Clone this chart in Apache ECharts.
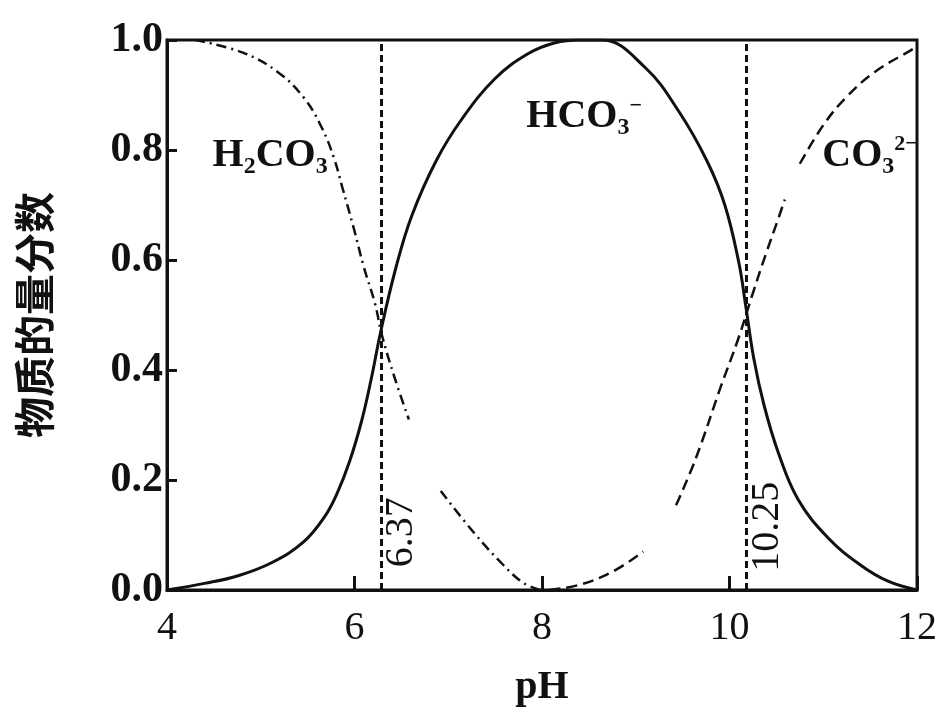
<!DOCTYPE html>
<html><head><meta charset="utf-8">
<script src="https://cdn.jsdelivr.net/npm/echarts@6/dist/echarts.min.js"></script>
<style>html,body{margin:0;padding:0;background:#fff}#c{width:944px;height:713px}</style>
</head><body><div id="c"></div>
<script>
// tick values
const xTicks = [4, 6, 8, 10, 12];
const yTicks = [0, 0.2, 0.4, 0.6, 0.8, 1.0];
// pKa reference lines (positions as drawn) and their labels
const pKaLines = [6.28, 10.18];
const pKaLabels = ['6.37', '10.25'];
// HCO3- fraction (solid)
const hco3 = [[4,0],[4.4,0.012],[4.76,0.026],[5.12,0.05],[5.46,0.088],[5.68,0.133],[5.81,0.174],[5.95,0.235],[6.08,0.31],[6.18,0.385],[6.28,0.47],[6.44,0.585],[6.61,0.68],[6.87,0.78],[7.14,0.855],[7.5,0.93],[7.85,0.975],[8.14,0.995],[8.4,1.0],[8.64,1.0],[9.1,0.95],[9.46,0.87],[9.76,0.78],[9.95,0.7],[10.1,0.595],[10.17,0.52],[10.26,0.42],[10.37,0.335],[10.52,0.25],[10.73,0.165],[11.05,0.095],[11.4,0.045],[11.69,0.016],[12,0]];
// H2CO3 fraction (dash-dot), drawn in two pieces
const h2co3Upper = [[4.3,1.0],[4.81,0.977],[5.18,0.942],[5.46,0.895],[5.65,0.841],[5.78,0.786],[5.87,0.732],[5.99,0.659],[6.1,0.587],[6.22,0.52],[6.29,0.465],[6.43,0.385],[6.58,0.31]];
const h2co3Lower = [[6.92,0.18],[7.27,0.105],[7.59,0.045],[7.8,0.013],[7.98,0]];
// CO3 2- fraction (dashed), drawn in three pieces
const co3Seg1 = [[8.08,0],[8.41,0.01],[8.76,0.034],[9.08,0.07]];
const co3Seg2 = [[9.43,0.154],[9.64,0.239],[9.91,0.371],[10.09,0.455],[10.25,0.54],[10.39,0.612],[10.52,0.675],[10.59,0.71]];
const co3Seg3 = [[10.75,0.775],[11.0,0.845],[11.24,0.895],[11.55,0.942],[11.97,0.985],[12,0.99]];

const SERIF = 'Liberation Serif';
const BLACK = '#111';
const chart = echarts.init(document.getElementById('c'));

const dashDot = [10, 5, 2, 5];
const dash = [11, 6];

function seg(data, type, width) {
  return {type: 'line', data: data, showSymbol: false, smooth: 0.4, silent: true,
    lineStyle: {color: BLACK, width: width, type: type}, z: 3};
}
const rich = {
  a: {fontFamily: SERIF, fontWeight: 'bold', fontSize: 40, color: BLACK},
  s: {fontFamily: SERIF, fontWeight: 'bold', fontSize: 24, color: BLACK, padding: [22, 0, 0, 0]},
  p: {fontFamily: SERIF, fontWeight: 'bold', fontSize: 22, color: BLACK, padding: [0, 0, 22, 0]}
};
function lbl(coord, formatter) {
  return {coord: coord, symbolSize: 0, itemStyle: {color: 'rgba(0,0,0,0)'},
    label: {show: true, position: 'inside', formatter: formatter, rich: rich}};
}
function rotLbl(coord, text) {
  return {coord: coord, symbolSize: 0, itemStyle: {color: 'rgba(0,0,0,0)'},
    label: {show: true, position: 'inside', rotate: 90, formatter: text,
      fontFamily: SERIF, fontSize: 40, color: BLACK}};
}

const option = {
  animation: false,
  backgroundColor: '#fff',
  grid: {left: 167, right: 27, top: 40, bottom: 121, show: true, borderColor: BLACK, borderWidth: 3, backgroundColor: 'transparent'},
  xAxis: {
    type: 'value', min: xTicks[0], max: xTicks[xTicks.length - 1], interval: 2,
    name: 'pH', nameLocation: 'middle', nameGap: 78,
    nameTextStyle: {fontFamily: SERIF, fontWeight: 'bold', fontSize: 40, color: BLACK},
    axisLine: {show: true, lineStyle: {color: BLACK, width: 3}},
    axisTick: {show: true, inside: true, length: 14, lineStyle: {color: BLACK, width: 3}},
    axisLabel: {fontFamily: SERIF, fontSize: 40, color: BLACK, margin: 18,
      formatter: v => xTicks.includes(v) ? String(v) : ''},
    splitLine: {show: false}
  },
  yAxis: {
    type: 'value', min: yTicks[0], max: yTicks[yTicks.length - 1], interval: 0.2,
    name: '物质的量分数', nameLocation: 'middle', nameGap: 112,
    nameTextStyle: {fontFamily: 'Noto Sans CJK SC', fontWeight: 'bold', fontSize: 41, color: BLACK},
    axisLine: {show: true, lineStyle: {color: BLACK, width: 3}},
    axisTick: {show: true, inside: true, length: 10, lineStyle: {color: BLACK, width: 3}},
    axisLabel: {fontFamily: SERIF, fontWeight: 'bold', fontSize: 42, color: BLACK, margin: 4,
      formatter: v => v.toFixed(1)},
    splitLine: {show: false}
  },
  series: [
    Object.assign(seg(hco3, 'solid', 3), {
      markLine: {silent: true, symbol: 'none', label: {show: false},
        lineStyle: {color: BLACK, width: 3, type: [7, 4]},
        data: pKaLines.map(x => ({xAxis: x}))},
      markPoint: {silent: true, symbol: 'circle', data: [
        lbl([5.1, 0.79], '{a|H}{s|2}{a|CO}{s|3}'),
        lbl([8.45, 0.86], '{a|HCO}{s|3}{p|−}'),
        lbl([11.5, 0.79], '{a|CO}{s|3}{p|2−}'),
        rotLbl([6.5, 0.105], pKaLabels[0]),
        rotLbl([10.41, 0.115], pKaLabels[1])
      ]}
    }),
    seg(h2co3Upper, dashDot, 2.5),
    seg(h2co3Lower, dashDot, 2.5),
    seg(co3Seg1, dash, 2.5),
    seg(co3Seg2, dash, 2.5),
    seg(co3Seg3, dash, 2.5)
  ]
};
chart.setOption(option);
</script>
</body></html>
